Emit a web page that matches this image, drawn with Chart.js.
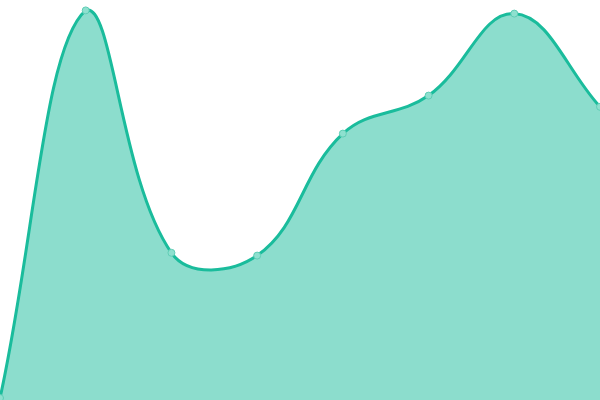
<!DOCTYPE html>
<html>
<head>
<meta charset="utf-8">
<script src="https://cdn.jsdelivr.net/npm/chart.js@4"></script>
<style>
    html, body { margin: 0; padding: 0; background: #fff; }
    #chartDiv { width: 600px; height: 400px; }
</style>
</head>
<body>
<div id="chartDiv"><canvas id="myChart"></canvas></div>
<script>
const labels = ['1', '2', '3', '4', '5', '6', '7', '8'];
const values = [0.5, 97.4, 36.8, 36.1, 66.6, 76.1, 96.6, 73.3];

var ctx = document.getElementById('myChart').getContext('2d');
var chart = new Chart(ctx, {
    type: 'line',
    data: {
        labels: labels,
        datasets: [{
            data: values,
            backgroundColor: 'rgba(26, 188, 156, 0.5)',
            borderColor: '#1abc9c',
            borderWidth: 3,
            pointRadius: 3.5,
            pointBorderWidth: 1,
            pointBackgroundColor: '#8ee0cf',
            pointBorderColor: '#5fcdb5',
            tension: 0.4,
            fill: true,
        }]
    },
    options: {
        responsive: true,
        maintainAspectRatio: false,
        animation: false,
        layout: { padding: 0, autoPadding: false },
        plugins: {
            legend: { display: false },
            tooltip: { enabled: false }
        },
        scales: {
            x: { display: false },
            y: { display: false, min: 0, max: 100 }
        }
    }
});
</script>
</body>
</html>
